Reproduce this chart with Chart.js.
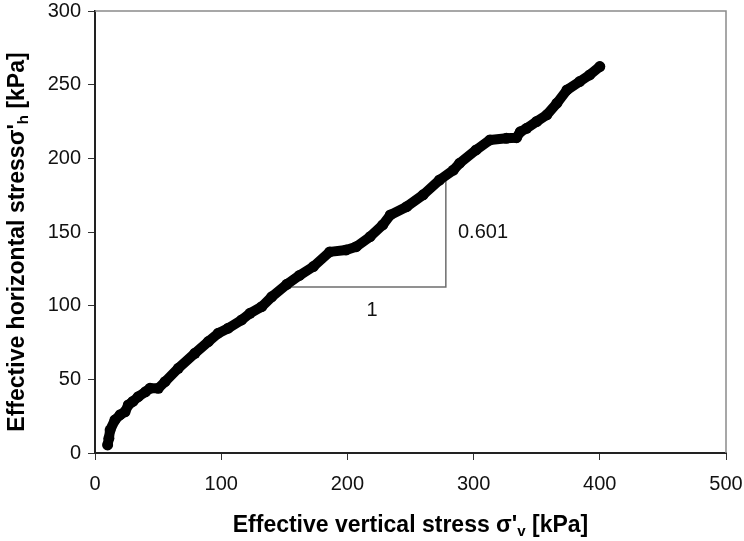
<!DOCTYPE html>
<html>
<head>
<meta charset="utf-8">
<script src="https://cdn.jsdelivr.net/npm/chart.js@4/dist/chart.umd.min.js"></script>
<style>
  body { margin: 0; background: #fff; }
  #wrap { width: 744px; height: 541px; }
</style>
</head>
<body>
<div id="wrap"><canvas id="myChart"></canvas></div>
<script>
// effective vertical / horizontal stress readings [kPa]
const vStress = [10, 11, 12, 15.8, 20, 23.8, 26.4, 30, 34.3, 40, 43.6, 50.2, 55.5, 66, 79.2, 89.8, 97.7,
    105.6, 116.2, 122.8, 132.1, 140, 152, 162, 173, 186, 199, 207, 218, 228, 234, 247, 260, 273,
    284, 289, 302, 313, 326, 334, 337, 342, 350, 358, 366, 374, 384, 392, 400];
const hStress = [5.5, 10, 15.6, 22.4, 26, 28, 32.6, 35, 38.2, 41.5, 43.9, 43.9, 48.4, 57.5, 67.7, 75.6, 81.3,
    84.7, 90.3, 94.8, 99.3, 106, 114.5, 120.5, 126.5, 136.5, 137.8, 140, 146.8, 154.8, 161.6, 167.2, 175.2, 185.3,
    192, 196.7, 205.7, 212.5, 213.6, 214, 218, 220.4, 225, 229.5, 237.4, 246.4, 252.1, 256.6, 262.3];

// slope triangle (1 : 0.601)
const slopeX = [154, 278, 278];
const slopeY = [112.7, 112.7, 185.5];

const xTicks = [0, 100, 200, 300, 400, 500];
const yTicks = [0, 50, 100, 150, 200, 250, 300];

const FONT = '"Liberation Sans", Arial, sans-serif';

function toPoints(xs, ys) {
    return xs.map((x, i) => ({ x: x, y: ys[i] }));
}

// draws frame, slope labels and axis titles with subscripts
const extras = {
    id: 'extras',
    afterDraw(chart) {
        const ctx = chart.ctx;
        const a = chart.chartArea;
        const sx = chart.scales.x, sy = chart.scales.y;
        ctx.save();

        // top and right border
        ctx.strokeStyle = '#8a8a8a';
        ctx.lineWidth = 1.5;
        ctx.beginPath();
        ctx.moveTo(a.left, a.top);
        ctx.lineTo(a.right, a.top);
        ctx.lineTo(a.right, a.bottom);
        ctx.stroke();

        // slope labels
        ctx.fillStyle = '#111';
        ctx.font = '20px ' + FONT;
        ctx.textBaseline = 'middle';
        ctx.textAlign = 'center';
        ctx.fillText('1', sx.getPixelForValue(219.5), sy.getPixelForValue(96.4));
        ctx.textAlign = 'left';
        ctx.fillText('0.601', sx.getPixelForValue(287.6), sy.getPixelForValue(149.4));

        // axis titles
        const big = 'bold 23px ' + FONT;
        const small = 'bold 15px ' + FONT;
        function title(parts) {
            let w = 0;
            parts.forEach(p => { ctx.font = p.sub ? small : big; w += ctx.measureText(p.t).width; });
            let x = -w / 2;
            ctx.textAlign = 'left';
            ctx.textBaseline = 'alphabetic';
            parts.forEach(p => {
                ctx.font = p.sub ? small : big;
                ctx.fillText(p.t, x, p.sub ? 4 : 0);
                x += ctx.measureText(p.t).width;
            });
        }
        ctx.fillStyle = '#000';
        ctx.save();
        ctx.translate((a.left + a.right) / 2, 532);
        title([{ t: "Effective vertical stress \u03c3'" }, { t: 'v', sub: true }, { t: ' [kPa]' }]);
        ctx.restore();

        ctx.save();
        ctx.translate(24, (a.top + a.bottom) / 2 + 10);
        ctx.rotate(-Math.PI / 2);
        title([{ t: "Effective horizontal stress\u03c3'" }, { t: 'h', sub: true }, { t: ' [kPa]' }]);
        ctx.restore();

        ctx.restore();
    }
};

const axisCommon = {
    grid: { display: true, drawOnChartArea: false, drawTicks: true, tickLength: 7, color: '#333', lineWidth: 1 },
    border: { display: true, color: '#222', width: 2 },
};

new Chart(document.getElementById('myChart'), {
    type: 'scatter',
    data: {
        datasets: [{
            label: 'stress path',
            data: toPoints(vStress, hStress),
            showLine: true,
            borderColor: '#000',
            borderWidth: 10,
            borderCapStyle: 'round',
            borderJoinStyle: 'round',
            pointRadius: 5.5,
            pointBorderWidth: 0,
            pointBackgroundColor: '#000',
            pointBorderColor: '#000',
            order: 0
        }, {
            label: 'slope',
            data: toPoints(slopeX, slopeY),
            showLine: true,
            borderColor: '#6e6e6e',
            borderWidth: 1.5,
            pointRadius: 0,
            order: 1
        }]
    },
    options: {
        responsive: true,
        maintainAspectRatio: false,
        animation: false,
        layout: { padding: { left: 0, right: 18, top: 11, bottom: 0 } },
        plugins: { legend: { display: false }, tooltip: { enabled: false } },
        scales: {
            x: {
                type: 'linear', min: 0, max: 500,
                afterBuildTicks: s => { s.ticks = xTicks.map(v => ({ value: v })); },
                afterFit: s => { s.height = 88; s.paddingLeft = 0; s.paddingRight = 0; },
                ticks: { font: { family: FONT, size: 20 }, color: '#111', padding: 12, maxRotation: 0 },
                ...axisCommon
            },
            y: {
                type: 'linear', min: 0, max: 300,
                afterBuildTicks: s => { s.ticks = yTicks.map(v => ({ value: v })); },
                afterFit: s => { s.width = 95; s.paddingTop = 0; s.paddingBottom = 0; },
                ticks: { font: { family: FONT, size: 20 }, color: '#111', padding: 7 },
                ...axisCommon
            }
        }
    },
    plugins: [extras]
});
</script>
</body>
</html>
